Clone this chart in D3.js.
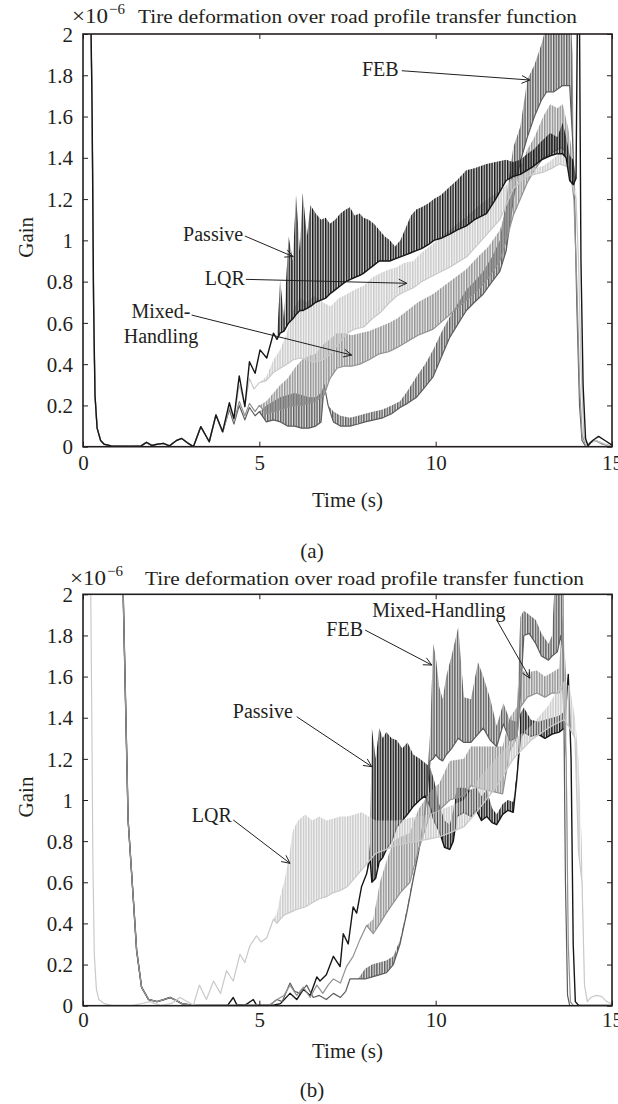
<!DOCTYPE html>
<html>
<head>
<meta charset="utf-8">
<script src="https://cdn.jsdelivr.net/npm/d3@7"></script>
<style>
  body { margin: 0; background: #fff; }
  svg { display: block; background: #fff; }
  text { font-family: "Liberation Serif", "DejaVu Serif", serif; fill: #231f20; }
</style>
</head>
<body>
<div id="app"></div>
<script>
const width = 618;
const height = 1104;

const plotLeft = 83;
const plotRight = 612;
const serifFont = "'Liberation Serif', 'DejaVu Serif', serif";

const timeTicks = [0, 5, 10, 15];
const gainTicks = [0, 0.2, 0.4, 0.6, 0.8, 1, 1.2, 1.4, 1.6, 1.8, 2];

const titleText = "Tire deformation over road profile transfer function";

// rows are [time (s), lower gain, upper gain] in units of 1e-6; [t, v] means no spread
const startA = [[0, 2.6], [0.2, 2.4], [0.26, 1.6], [0.3, 0.7], [0.34, 0.25], [0.4, 0.09], [0.5, 0.03],
    [0.6, 0.012], [0.8, 0.004], [1.3, 0.002], [1.65, 0.004], [1.8, 0.021], [1.95, 0.006], [2.1, 0.012],
    [2.28, 0.016], [2.45, 0.004], [2.65, 0.03], [2.8, 0.04], [2.95, 0.02], [3.13, 0.0], [3.34, 0.097],
    [3.58, 0.024], [3.77, 0.154]];

const passiveA = startA.concat([[3.96, 0.073], [4.15, 0.213], [4.28, 0.137], [4.43, 0.343], [4.59, 0.194],
    [4.72, 0.412], [4.88, 0.356], [5.02, 0.469], [5.21, 0.43], [5.4, 0.55], [5.5, 0.52], [5.59, 0.55, 0.81],
    [5.7, 0.56, 0.62], [5.83, 0.6, 1.02], [5.95, 0.62, 0.9], [6.04, 0.64, 1.22], [6.15, 0.66, 0.95],
    [6.23, 0.66, 1.23], [6.35, 0.67, 1.02], [6.45, 0.68, 1.17], [6.6, 0.7, 1.13], [6.75, 0.71, 1.1],
    [6.88, 0.72, 1.11], [7.0, 0.74, 1.08], [7.15, 0.76, 1.1], [7.3, 0.78, 1.13], [7.45, 0.8, 1.15],
    [7.57, 0.81, 1.16], [7.7, 0.82, 1.12], [7.85, 0.83, 1.13], [7.95, 0.84, 1.11], [8.1, 0.86, 1.1],
    [8.25, 0.88, 1.08], [8.4, 0.9, 1.05], [8.55, 0.9, 1.02], [8.7, 0.9, 1.0], [8.85, 0.91, 0.97],
    [9.0, 0.92, 1.0], [9.15, 0.93, 1.06], [9.3, 0.94, 1.12], [9.45, 0.95, 1.15], [9.6, 0.96, 1.16],
    [9.8, 0.98, 1.18], [9.95, 1.0, 1.2], [10.15, 1.01, 1.22], [10.4, 1.03, 1.26], [10.6, 1.05, 1.29],
    [10.87, 1.07, 1.34], [11.1, 1.1, 1.35], [11.44, 1.13, 1.37], [11.7, 1.2, 1.38], [12.0, 1.29, 1.39],
    [12.2, 1.31, 1.38], [12.4, 1.32, 1.39], [12.6, 1.34, 1.42], [12.78, 1.36, 1.44], [13.0, 1.39, 1.48],
    [13.25, 1.41, 1.52], [13.45, 1.42, 1.5], [13.6, 1.42, 1.57], [13.7, 1.4, 1.5], [13.8, 1.29, 1.41],
    [13.9, 1.27, 1.39], [13.98, 1.3], [14.03, 2.3], [14.07, 2.3], [14.12, 0.9], [14.18, 0.3], [14.25, 0.04],
    [14.32, 0.005], [14.45, 0.03], [14.62, 0.05], [14.8, 0.03], [15, 0.008]]);

const lqrA = startA.concat([[3.96, 0.07], [4.15, 0.2], [4.28, 0.13], [4.43, 0.3], [4.59, 0.2], [4.72, 0.33],
    [4.85, 0.28], [5.0, 0.31], [5.2, 0.32, 0.34], [5.4, 0.36, 0.42], [5.59, 0.38, 0.47], [5.78, 0.4, 0.55],
    [5.95, 0.42, 0.66], [6.15, 0.43, 0.72], [6.35, 0.42, 0.7], [6.55, 0.41, 0.73], [6.8, 0.42, 0.7],
    [7.02, 0.45, 0.68], [7.25, 0.5, 0.72], [7.49, 0.55, 0.74], [7.7, 0.57, 0.76], [7.96, 0.58, 0.78],
    [8.2, 0.62, 0.82], [8.43, 0.65, 0.84], [8.7, 0.7, 0.86], [8.9, 0.73, 0.87], [9.1, 0.75, 0.89],
    [9.37, 0.77, 0.9], [9.6, 0.8, 0.94], [9.93, 0.83, 0.985], [10.4, 0.87, 1.05], [10.88, 0.92, 1.115],
    [11.3, 1.0, 1.18], [11.82, 1.1, 1.24], [12.2, 1.25, 1.3], [12.58, 1.31, 1.34], [13.05, 1.33, 1.36],
    [13.3, 1.35, 1.39], [13.5, 1.37, 1.42], [13.7, 1.36, 1.43], [13.8, 1.34, 1.41], [13.9, 1.25, 1.28],
    [13.98, 1.2, 1.25], [14.05, 0.9], [14.12, 0.4], [14.2, 0.06], [14.28, 0.005], [14.4, 0.02],
    [14.55, 0.03], [14.7, 0.02], [14.9, 0.005], [15, 0.003]]);

const mixedA = startA.concat([[3.96, 0.07], [4.15, 0.19], [4.28, 0.12], [4.43, 0.22], [4.59, 0.15],
    [4.72, 0.21], [4.88, 0.17], [5.0, 0.2], [5.2, 0.16, 0.22], [5.4, 0.17, 0.26], [5.6, 0.18, 0.3],
    [5.8, 0.19, 0.33], [6.0, 0.2, 0.38], [6.2, 0.2, 0.42], [6.4, 0.21, 0.44], [6.6, 0.22, 0.45],
    [6.84, 0.25, 0.5], [7.0, 0.33, 0.52], [7.2, 0.38, 0.55], [7.4, 0.39, 0.55], [7.62, 0.39, 0.54],
    [7.85, 0.4, 0.55], [8.1, 0.42, 0.56], [8.4, 0.45, 0.58], [8.67, 0.46, 0.6], [8.9, 0.48, 0.62],
    [9.2, 0.51, 0.66], [9.5, 0.54, 0.7], [9.93, 0.57, 0.74], [10.4, 0.64, 0.8], [10.87, 0.71, 0.86],
    [11.2, 0.76, 0.92], [11.5, 0.82, 0.97], [11.82, 0.9, 1.05], [12.0, 1.0, 1.15], [12.2, 1.12, 1.3],
    [12.4, 1.2, 1.36], [12.6, 1.28, 1.44], [12.8, 1.34, 1.5], [13.05, 1.4, 1.6], [13.25, 1.42, 1.66],
    [13.45, 1.44, 1.64], [13.6, 1.45, 1.66], [13.75, 1.4, 1.55], [13.85, 1.3, 1.45], [13.92, 1.2],
    [14.0, 0.8], [14.08, 0.3], [14.15, 0.06], [14.25, 0.005], [14.4, 0.02], [14.52, 0.03], [14.7, 0.015],
    [14.9, 0.004], [15, 0.002]]);

const febA = startA.concat([[3.96, 0.07], [4.15, 0.18], [4.28, 0.11], [4.43, 0.2], [4.59, 0.13],
    [4.72, 0.19], [4.88, 0.15], [5.0, 0.17], [5.2, 0.12, 0.2], [5.4, 0.13, 0.22], [5.6, 0.12, 0.24],
    [5.8, 0.1, 0.25], [6.0, 0.1, 0.26], [6.2, 0.09, 0.25], [6.4, 0.09, 0.24], [6.6, 0.1, 0.24],
    [6.75, 0.12, 0.26], [6.84, 0.3], [6.95, 0.2], [7.1, 0.12, 0.17], [7.3, 0.1, 0.15], [7.57, 0.1, 0.14],
    [7.8, 0.11, 0.15], [8.0, 0.12, 0.16], [8.25, 0.13, 0.17], [8.5, 0.14, 0.18], [8.75, 0.16, 0.2],
    [8.99, 0.19, 0.22], [9.2, 0.21, 0.27], [9.46, 0.24, 0.34], [9.7, 0.29, 0.4], [9.93, 0.34, 0.47],
    [10.15, 0.43, 0.55], [10.4, 0.53, 0.63], [10.65, 0.6, 0.7], [10.87, 0.66, 0.76], [11.1, 0.7, 0.8],
    [11.35, 0.74, 0.85], [11.6, 0.8, 0.92], [11.82, 0.85, 1.0], [12.0, 0.95, 1.2], [12.2, 1.2, 1.45],
    [12.4, 1.38, 1.55], [12.6, 1.5, 1.78], [12.8, 1.6, 1.85], [13.0, 1.68, 1.95], [13.15, 1.72, 2.05],
    [13.35, 1.72, 2.2], [13.6, 1.75, 2.2], [13.8, 1.75, 2.2], [13.88, 1.5, 1.9], [13.94, 1.2], [14.0, 0.7],
    [14.08, 0.2], [14.15, 0.03], [14.25, 0.003], [14.42, 0.025], [14.55, 0.03], [14.7, 0.015], [15, 0.002]]);

const startB = [[0, 2.6], [1.1, 2.6], [1.14, 2.0], [1.28, 0.9], [1.43, 0.51], [1.52, 0.27], [1.66, 0.09],
    [1.86, 0.03], [2.1, 0.02], [2.3, 0.03], [2.47, 0.04], [2.65, 0.025], [2.8, 0.01], [3.1, 0.002]];

const passiveB = startB.concat([[3.8, 0.001], [4.1, 0.002], [4.26, 0.04], [4.36, 0.005], [4.6, 0.003],
    [4.83, 0.03], [4.92, 0.003], [5.4, 0.002], [5.6, 0.01], [5.87, 0.06], [6.06, 0.03], [6.25, 0.08],
    [6.44, 0.05], [6.63, 0.14], [6.72, 0.12], [6.9, 0.15], [7.1, 0.24], [7.29, 0.19], [7.38, 0.35],
    [7.52, 0.3], [7.66, 0.48], [7.76, 0.45], [7.9, 0.58], [8.04, 0.64], [8.14, 0.72, 0.79], [8.19, 0.6, 1.35],
    [8.3, 0.62, 1.2], [8.4, 0.7, 1.35], [8.5, 0.72, 1.3], [8.6, 0.76, 1.33], [8.75, 0.8, 1.3],
    [8.9, 0.87, 1.29], [9.05, 0.9, 1.25], [9.2, 0.93, 1.28], [9.37, 0.97, 1.22], [9.55, 1.0, 1.2],
    [9.7, 1.02, 1.18], [9.84, 0.97, 1.16], [9.95, 0.9, 1.1], [10.1, 0.85, 0.98], [10.25, 0.77, 0.9],
    [10.4, 0.76, 0.88], [10.5, 0.8, 0.95], [10.6, 0.92, 1.06], [10.8, 0.94, 1.06], [11.0, 0.92, 1.05],
    [11.15, 0.95, 1.06], [11.3, 0.9, 1.02], [11.45, 0.92, 1.05], [11.6, 0.89, 0.96], [11.73, 0.88, 0.93],
    [11.9, 0.93, 0.98], [12.05, 0.95, 1.0], [12.2, 0.94, 0.99], [12.3, 1.1, 1.13], [12.4, 1.3, 1.42],
    [12.5, 1.33, 1.45], [12.7, 1.31, 1.39], [12.9, 1.32, 1.38], [13.1, 1.3, 1.39], [13.3, 1.32, 1.4],
    [13.5, 1.33, 1.41], [13.65, 1.35, 1.43], [13.76, 1.61], [13.84, 1.2], [13.9, 0.3], [13.96, 0.02],
    [14.05, 0.002], [15, 0.001]]);

const lqrB = [[0, 2.6], [0.18, 2.5], [0.22, 2.0], [0.25, 1.4], [0.28, 0.7], [0.32, 0.25], [0.38, 0.08],
    [0.45, 0.03], [0.6, 0.01], [0.8, 0.003], [1.4, 0.002], [1.7, 0.012], [1.9, 0.02], [2.05, 0.01],
    [2.2, 0.002], [2.5, 0.01], [2.75, 0.04], [2.95, 0.02], [3.13, 0.002], [3.3, 0.1], [3.5, 0.03],
    [3.7, 0.12], [3.9, 0.06], [4.07, 0.17], [4.26, 0.12], [4.45, 0.25], [4.59, 0.21], [4.73, 0.29],
    [4.92, 0.34], [5.05, 0.31], [5.21, 0.33], [5.4, 0.42], [5.5, 0.4, 0.45], [5.59, 0.42, 0.53],
    [5.7, 0.44, 0.6], [5.82, 0.45, 0.7], [5.95, 0.46, 0.85], [6.1, 0.47, 0.9], [6.3, 0.48, 0.93],
    [6.5, 0.5, 0.9], [6.7, 0.52, 0.92], [6.9, 0.53, 0.9], [7.1, 0.55, 0.91], [7.3, 0.56, 0.92],
    [7.5, 0.58, 0.92], [7.7, 0.62, 0.93], [7.9, 0.66, 0.94], [8.1, 0.7, 0.92], [8.3, 0.74, 0.9],
    [8.6, 0.76, 0.9], [8.9, 0.78, 0.9], [9.2, 0.79, 0.91], [9.5, 0.8, 0.92], [9.8, 0.81, 0.93],
    [10.1, 0.82, 0.95], [10.4, 0.84, 0.97], [10.8, 0.87, 1.0], [11.2, 0.95, 1.1], [11.7, 1.06, 1.2],
    [12.2, 1.2, 1.29], [12.7, 1.29, 1.36], [13.2, 1.35, 1.46], [13.4, 1.37, 1.52], [13.65, 1.39, 1.58],
    [13.8, 1.35, 1.55], [13.95, 1.3, 1.4], [14.05, 0.75, 1.2], [14.15, 0.6, 0.75], [14.22, 0.1],
    [14.3, 0.02], [14.4, 0.04], [14.55, 0.05], [14.7, 0.045], [14.85, 0.02], [15, 0.008]];

const mixedB = startB.concat([[4.5, 0.002], [5.3, 0.005], [5.5, 0.03], [5.7, 0.05], [5.87, 0.1],
    [6.06, 0.05], [6.25, 0.09], [6.44, 0.04], [6.63, 0.1], [6.8, 0.06], [6.95, 0.1], [7.1, 0.13],
    [7.3, 0.11], [7.47, 0.19], [7.66, 0.24], [7.85, 0.32], [8.04, 0.39], [8.23, 0.35, 0.42],
    [8.42, 0.4, 0.6], [8.6, 0.45, 0.7], [8.8, 0.5, 0.8], [9.0, 0.55, 0.82], [9.27, 0.6, 0.84],
    [9.5, 0.75, 0.95], [9.84, 0.93, 1.04], [10.1, 0.95, 1.08], [10.4, 1.0, 1.19], [10.8, 1.02, 1.2],
    [11.0, 1.07, 1.26], [11.4, 1.05, 1.26], [11.9, 1.03, 1.26], [12.1, 1.24, 1.4], [12.3, 1.3, 1.45],
    [12.4, 1.45, 1.63], [12.6, 1.5, 1.62], [12.87, 1.52, 1.63], [13.1, 1.5, 1.6], [13.3, 1.52, 1.62],
    [13.5, 1.52, 1.64], [13.6, 1.55, 1.9], [13.7, 1.2, 1.6], [13.76, 0.3], [13.82, 0.02], [13.9, 0.002],
    [15, 0.001]]);

const febB = startB.concat([[5.3, 0.003], [5.5, 0.03], [5.65, 0.02], [5.87, 0.11], [6.0, 0.07],
    [6.15, 0.06], [6.34, 0.1], [6.53, 0.04], [6.7, 0.05], [6.9, 0.03], [7.1, 0.06], [7.3, 0.04],
    [7.45, 0.07], [7.57, 0.13], [7.8, 0.13], [8.0, 0.13, 0.18], [8.2, 0.14, 0.2], [8.4, 0.15, 0.21],
    [8.6, 0.16, 0.22], [8.8, 0.2, 0.24], [8.99, 0.3, 0.32], [9.18, 0.45, 0.47], [9.37, 0.62, 0.64],
    [9.51, 0.74, 0.76], [9.65, 0.88, 0.9], [9.74, 1.0, 1.06], [9.84, 1.19, 1.32], [9.93, 1.2, 1.76],
    [10.0, 1.22, 1.7], [10.1, 1.2, 1.55], [10.2, 1.19, 1.49], [10.3, 1.22, 1.6], [10.45, 1.25, 1.7],
    [10.64, 1.3, 1.84], [10.8, 1.28, 1.5], [11.0, 1.28, 1.49], [11.2, 1.32, 1.67], [11.35, 1.35, 1.6],
    [11.55, 1.29, 1.49], [11.73, 1.26, 1.36], [11.92, 1.37, 1.47], [12.1, 1.29, 1.39], [12.3, 1.3, 1.38],
    [12.4, 1.5, 1.89], [12.5, 1.8, 1.92], [12.65, 1.81, 1.9], [12.84, 1.76, 1.875], [13.0, 1.7, 1.81],
    [13.2, 1.68, 1.76], [13.3, 1.7, 1.8], [13.45, 1.72, 2.3], [13.55, 1.8, 2.3], [13.62, 1.7, 2.3],
    [13.68, 0.6], [13.74, 0.05], [13.8, 0.002], [15, 0.001]]);

const seriesColors = {
    passive: "#161616",
    lqr: "#c9c9c9",
    mixed: "#929292",
    feb: "#5c5c5c"
};
const stripeOffset = { passive: 0, lqr: 1.2, mixed: 0.6, feb: 1.8 };

const panels = [
    {
        id: "a", top: 34, bottom: 446.7, caption: "(a)", captionY: 558, xLabelY: 507, tickY: 470,
        titleX: 138, titleY: 23.3, unitX: 72,
        order: ["feb", "mixed", "lqr", "passive"],
        series: { passive: passiveA, lqr: lqrA, mixed: mixedA, feb: febA },
        notes: [
            { lines: ["FEB"], anchor: "end", at: [8.95, 1.795], from: [9.04, 1.822], to: [12.67, 1.777] },
            { lines: ["Passive"], anchor: "end", at: [4.54, 0.998], from: [4.59, 1.021], to: [5.96, 0.921] },
            { lines: ["LQR"], anchor: "end", at: [4.59, 0.784], from: [4.62, 0.811], to: [9.18, 0.792] },
            { lines: ["Mixed-", "Handling"], anchor: "middle", at: [2.21, 0.624], from: [3.08, 0.638], to: [7.62, 0.444] }
        ]
    },
    {
        id: "b", top: 594.3, bottom: 1005.7, caption: "(b)", captionY: 1097, xLabelY: 1058, tickY: 1027,
        titleX: 145, titleY: 585, unitX: 70,
        order: ["passive", "feb", "mixed", "lqr"],
        series: { passive: passiveB, lqr: lqrB, mixed: mixedB, feb: febB },
        notes: [
            { lines: ["Mixed-Handling"], anchor: "middle", at: [10.09, 1.89], from: [11.73, 1.875], to: [12.67, 1.592] },
            { lines: ["FEB"], anchor: "end", at: [7.94, 1.797], from: [8.0, 1.826], to: [9.89, 1.656] },
            { lines: ["Passive"], anchor: "end", at: [5.95, 1.399], from: [6.06, 1.405], to: [8.19, 1.162] },
            { lines: ["LQR"], anchor: "end", at: [4.22, 0.893], from: [4.26, 0.903], to: [5.87, 0.692] }
        ]
    }
];

const svg = d3.select("#app")
    .append("svg")
    .attr("width", width)
    .attr("height", height)
    .attr("font-family", serifFont);

const defs = svg.append("defs");

Object.keys(seriesColors).forEach(function (key) {
    const pattern = defs.append("pattern")
        .attr("id", "stripes-" + key)
        .attr("patternUnits", "userSpaceOnUse")
        .attr("patternTransform", "translate(" + stripeOffset[key] + ",0)")
        .attr("width", 2.6)
        .attr("height", 6);
    pattern.append("rect")
        .attr("width", 1.4)
        .attr("height", 6)
        .attr("fill", seriesColors[key]);
});

const fmtGain = d => d === 0 ? "0" : String(+d.toFixed(1));
const upper = d => d.length > 2 ? d[2] : d[1];

function drawArrow(g, x1, y1, x2, y2) {
    g.append("line")
        .attr("x1", x1).attr("y1", y1)
        .attr("x2", x2).attr("y2", y2)
        .attr("stroke", "#231f20")
        .attr("stroke-width", 1);
    const a = Math.atan2(y2 - y1, x2 - x1);
    const len = 9;
    const spread = 0.45;
    const p1 = [x2 - len * Math.cos(a - spread), y2 - len * Math.sin(a - spread)];
    const p2 = [x2 - len * Math.cos(a + spread), y2 - len * Math.sin(a + spread)];
    g.append("path")
        .attr("d", "M" + p1 + "L" + [x2, y2] + "L" + p2)
        .attr("fill", "none")
        .attr("stroke", "#231f20")
        .attr("stroke-width", 1);
}

function drawPanel(panel) {
    const x = d3.scaleLinear().domain([0, 15]).range([plotLeft, plotRight]);
    const y = d3.scaleLinear().domain([0, 2]).range([panel.bottom, panel.top]);
    const g = svg.append("g");

    defs.append("clipPath")
        .attr("id", "clip-" + panel.id)
        .append("rect")
        .attr("x", plotLeft)
        .attr("y", panel.top)
        .attr("width", plotRight - plotLeft)
        .attr("height", panel.bottom - panel.top);

    //CURVES
    const plot = g.append("g").attr("clip-path", "url(#clip-" + panel.id + ")");
    const band = d3.area()
        .x(d => x(d[0]))
        .y0(d => y(d[1]))
        .y1(d => y(upper(d)));
    const line = d3.line()
        .x(d => x(d[0]))
        .y(d => y(d[1]));
    panel.order.forEach(function (key) {
        const rows = panel.series[key];
        plot.append("path")
            .datum(rows)
            .attr("d", band)
            .attr("fill", seriesColors[key])
            .attr("fill-opacity", 0.18);
        plot.append("path")
            .datum(rows)
            .attr("d", band)
            .attr("fill", "url(#stripes-" + key + ")");
        plot.append("path")
            .datum(rows)
            .attr("d", line)
            .attr("fill", "none")
            .attr("stroke", seriesColors[key])
            .attr("stroke-width", key === "passive" ? 1.4 : 1.2)
            .attr("stroke-linejoin", "round");
    });

    //AXES
    const bottomAxis = g.append("g")
        .attr("transform", "translate(0," + panel.bottom + ")")
        .call(d3.axisBottom(x).tickValues(timeTicks).tickSize(-5).tickSizeOuter(0).tickFormat(d3.format("d")));
    g.append("g")
        .attr("transform", "translate(0," + panel.top + ")")
        .call(d3.axisTop(x).tickValues(timeTicks).tickSize(-5).tickSizeOuter(0).tickFormat(""));
    const leftAxis = g.append("g")
        .attr("transform", "translate(" + plotLeft + ",0)")
        .call(d3.axisLeft(y).tickValues(gainTicks).tickSize(-5).tickSizeOuter(0).tickPadding(10).tickFormat(fmtGain));
    g.append("g")
        .attr("transform", "translate(" + plotRight + ",0)")
        .call(d3.axisRight(y).tickValues(gainTicks).tickSize(-5).tickSizeOuter(0).tickFormat(""));

    g.selectAll(".domain").remove();
    g.selectAll("g").attr("font-family", serifFont).attr("font-size", null);
    g.selectAll(".tick line").attr("stroke", "#231f20").attr("stroke-width", 1);
    g.selectAll(".tick text")
        .attr("font-family", serifFont)
        .attr("font-size", 21)
        .style("fill", "#231f20");
    bottomAxis.selectAll(".tick text").attr("y", null).attr("dy", null)
        .attr("transform", "translate(0," + (panel.tickY - panel.bottom) + ")");
    leftAxis.selectAll(".tick text").attr("dy", "0.34em");

    g.append("rect")
        .attr("x", plotLeft)
        .attr("y", panel.top)
        .attr("width", plotRight - plotLeft)
        .attr("height", panel.bottom - panel.top)
        .attr("fill", "none")
        .attr("stroke", "#231f20")
        .attr("stroke-width", 1.6);

    //TITLE
    g.append("text")
        .attr("x", panel.titleX)
        .attr("y", panel.titleY)
        .attr("font-size", 19)
        .attr("textLength", 439)
        .attr("lengthAdjust", "spacingAndGlyphs")
        .text(titleText);
    g.append("text")
        .attr("x", panel.unitX)
        .attr("y", panel.titleY)
        .attr("font-size", 21)
        .attr("textLength", 36)
        .attr("lengthAdjust", "spacingAndGlyphs")
        .text("×10");
    g.append("text")
        .attr("x", panel.unitX + 37)
        .attr("y", panel.titleY - 9)
        .attr("font-size", 15)
        .text("−6");

    //LABELS
    g.append("text")
        .attr("transform", "translate(33," + ((panel.top + panel.bottom) / 2 - 3) + ") rotate(-90)")
        .attr("text-anchor", "middle")
        .attr("font-size", 21)
        .text("Gain");
    g.append("text")
        .attr("x", (plotLeft + plotRight) / 2)
        .attr("y", panel.xLabelY)
        .attr("text-anchor", "middle")
        .attr("font-size", 21)
        .text("Time (s)");
    g.append("text")
        .attr("x", 312)
        .attr("y", panel.captionY)
        .attr("text-anchor", "middle")
        .attr("font-size", 21)
        .text(panel.caption);

    //ANNOTATIONS
    panel.notes.forEach(function (note) {
        note.lines.forEach(function (txt, i) {
            g.append("text")
                .attr("x", x(note.at[0]))
                .attr("y", y(note.at[1]) + i * 25)
                .attr("text-anchor", note.anchor)
                .attr("font-size", 20)
                .text(txt);
        });
        drawArrow(g, x(note.from[0]), y(note.from[1]), x(note.to[0]), y(note.to[1]));
    });
}

panels.forEach(drawPanel);
</script>
</body>
</html>
